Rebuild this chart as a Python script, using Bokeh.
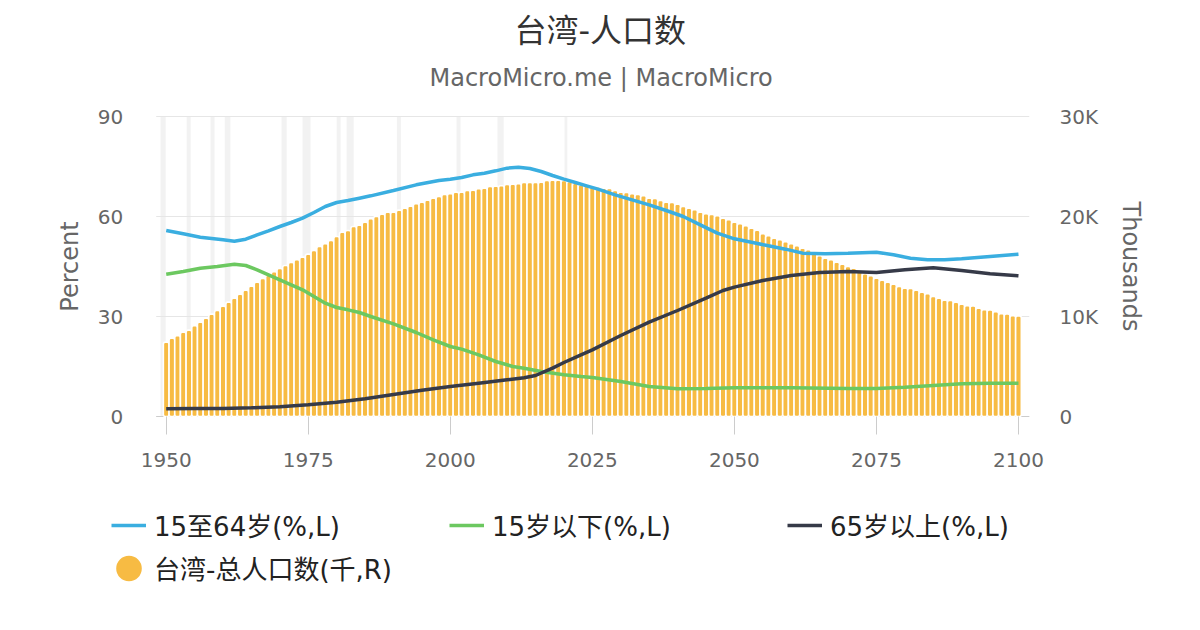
from math import pi
from bokeh.plotting import figure
from bokeh.layouts import column
from bokeh.models import Range1d, LinearAxis, FixedTicker, Legend, LegendItem, Title, Label
from bokeh.embed import file_html
from bokeh.resources import INLINE

# population, thousands, one bar per year 1950..2100
years = list(range(1950, 2101))
population = [
    7440, 7840, 8070, 8440, 8640, 9070, 9440, 9840, 10240, 10600,
    11040, 11440, 11840, 12240, 12640, 13040, 13440, 13800, 14140, 14470,
    14800, 15100, 15400, 15670, 15940, 16240, 16600, 17000, 17270, 17600,
    18000, 18440, 18600, 19000, 19140, 19440, 19770, 20000, 20240, 20440,
    20440, 20640, 20840, 21040, 21270, 21440, 21640, 21840, 22000, 22200,
    22270, 22440, 22440, 22600, 22640, 22770, 22840, 23000, 23040, 23070,
    23200, 23240, 23270, 23400, 23400, 23400, 23430, 23600, 23630, 23630,
    23600, 23500, 23330, 23170, 23070, 23000, 22950, 22840, 22800, 22600,
    22440, 22400, 22270, 22200, 22070, 21840, 21800, 21600, 21440, 21400,
    21240, 21000, 20840, 20670, 20440, 20270, 20200, 20070, 19840, 19670,
    19440, 19270, 19070, 18840, 18640, 18270, 18070, 17840, 17670, 17470,
    17270, 17070, 16840, 16670, 16340, 16070, 15840, 15670, 15440, 15240,
    15000, 14840, 14500, 14270, 14070, 13840, 13640, 13440, 13240, 13000,
    12840, 12800, 12640, 12440, 12270, 12000, 11840, 11640, 11600, 11440,
    11240, 11070, 11050, 10840, 10670, 10650, 10470, 10270, 10250, 10070,
    10050,
]

# 15至64岁 (%)
yr_1564 = [1950, 1953, 1956, 1958, 1960, 1962, 1964, 1966, 1968, 1970, 1972, 1974,
           1976, 1978, 1980, 1982, 1984, 1986, 1990, 1994, 1998, 2000, 2002, 2004,
           2006, 2008, 2010, 2012, 2014, 2016, 2018, 2020, 2022, 2024, 2026, 2029,
           2032, 2035, 2038, 2041, 2044, 2047, 2050, 2053, 2056, 2059, 2062, 2066,
           2070, 2075, 2078, 2081, 2084, 2087, 2090, 2095, 2100]
pct_1564 = [55.8, 54.8, 53.8, 53.4, 53.0, 52.6, 53.2, 54.5, 55.7, 57.0, 58.2, 59.5,
            61.2, 63.0, 64.2, 64.8, 65.5, 66.2, 67.8, 69.5, 70.8, 71.2, 71.7, 72.5,
            73.0, 73.7, 74.5, 74.8, 74.4, 73.5, 72.3, 71.2, 70.2, 69.2, 68.2, 66.5,
            65.0, 63.5, 61.8, 60.0, 57.5, 55.0, 53.3, 52.3, 51.2, 50.2, 49.0, 48.8,
            49.0, 49.3, 48.5, 47.5, 47.0, 47.0, 47.3, 48.0, 48.7]

# 15岁以下 (%)
yr_u15 = [1950, 1953, 1956, 1959, 1962, 1964, 1966, 1968, 1970, 1972, 1974, 1976,
          1978, 1980, 1982, 1984, 1986, 1990, 1994, 1997, 2000, 2002, 2005, 2008,
          2011, 2013, 2016, 2020, 2023, 2025, 2030, 2035, 2040, 2045, 2050, 2060,
          2070, 2075, 2080, 2085, 2090, 2095, 2100]
pct_u15 = [42.7, 43.5, 44.5, 45.0, 45.7, 45.3, 44.0, 42.5, 41.0, 39.5, 38.0, 36.0,
           34.0, 32.7, 32.0, 31.2, 30.0, 27.8, 25.2, 23.0, 21.0, 20.2, 18.5, 16.5,
           15.0, 14.5, 13.5, 12.5, 12.0, 11.7, 10.5, 9.0, 8.3, 8.4, 8.6, 8.6,
           8.4, 8.4, 8.8, 9.3, 9.8, 10.0, 10.0]

# 65岁以上 (%)
yr_65 = [1950, 1955, 1960, 1965, 1970, 1975, 1980, 1985, 1990, 1995, 2000, 2005,
         2010, 2013, 2015, 2018, 2020, 2023, 2025, 2030, 2035, 2040, 2045, 2048,
         2050, 2055, 2060, 2065, 2070, 2075, 2080, 2085, 2090, 2095, 2100]
pct_65 = [2.3, 2.4, 2.4, 2.6, 2.9, 3.5, 4.3, 5.3, 6.6, 7.9, 9.0, 10.0,
          11.0, 11.6, 12.3, 14.5, 16.2, 18.5, 20.0, 24.3, 28.3, 31.8, 35.5, 37.8,
          38.8, 40.8, 42.3, 43.2, 43.5, 43.2, 44.0, 44.6, 43.8, 42.8, 42.2]

# shaded periods in the background
band_start = [1949.0, 1953.6, 1957.8, 1960.3, 1970.3, 1974.0, 1980.0, 1981.75, 1990.6, 2001.1, 2008.3, 2020.1]
band_end = [1949.9, 1954.3, 1958.5, 1961.3, 1971.2, 1975.4, 1980.7, 1983.0, 1991.3, 2001.8, 2009.4, 2020.6]

x_ticks = [1950, 1975, 2000, 2025, 2050, 2075, 2100]
left_ticks = [0, 30, 60, 90]
right_ticks = [0, 10000, 20000, 30000]
right_labels = {0: "0", 10000: "10K", 20000: "20K", 30000: "30K"}

series_names = ["15至64岁(%,L)", "15岁以下(%,L)", "65岁以上(%,L)", "台湾-总人口数(千,R)"]

BLUE = "#3aaee0"
GREEN = "#6cc860"
DARK = "#363a48"
ORANGE = "#f7bb43"
GREY_TXT = "#666666"
LATIN = "DejaVu Sans"
CJK = "DejaVu Sans, Noto Sans CJK SC"

# visible plotting area in years; the frame itself reaches further left (and a
# little above/below) so the fixed left axis labels and the legend strip below,
# whose frame lines up with this one, are not clipped
X_LO, X_HI = 1948.24, 2101.94
FRAME_LO = 1930.69
PAD = 3.6  # percent units of head room above 90 and below 0

p = figure(width=1184, height=500, output_backend="svg", toolbar_location=None,
           x_range=Range1d(FRAME_LO, X_HI), y_range=Range1d(-PAD, 90 + PAD),
           min_border_left=56, min_border_right=155, min_border_top=104, min_border_bottom=72)
p.outline_line_color = None
p.extra_y_ranges = {"pop": Range1d(-PAD * 1000 / 3, 30000 + PAD * 1000 / 3)}
p.grid.visible = False

# background bands, grid lines and base line
p.quad(left=band_start, right=band_end, bottom=0, top=90, fill_color="#f2f2f2", line_color=None)
p.segment(x0=X_LO, x1=X_HI, y0=left_ticks, y1=left_ticks, line_color="#e6e6e6", line_width=1)
p.segment(x0=X_LO, x1=X_HI, y0=0, y1=0, line_color="#cccccc", line_width=1)

p.vbar(x=years, top=population, width=1.0, y_range_name="pop",
       fill_color=ORANGE, line_color="white", line_width=1.6, border_radius=2)

p.line(yr_1564, pct_1564, line_color=BLUE, line_width=3.5)
p.line(yr_u15, pct_u15, line_color=GREEN, line_width=3.5)
p.line(yr_65, pct_65, line_color=DARK, line_width=3.5)

# axes
xa = p.xaxis[0]
xa.ticker = FixedTicker(ticks=x_ticks)
xa.axis_line_color = None
xa.major_tick_line_color = "#cccccc"
xa.major_tick_in = 12
xa.major_tick_out = 6
xa.minor_tick_line_color = None
xa.major_label_standoff = 18
xa.major_label_text_font_size = "20px"
xa.major_label_text_color = GREY_TXT
xa.major_label_text_font = LATIN

ya = p.yaxis[0]
ya.ticker = FixedTicker(ticks=left_ticks)
ya.fixed_location = X_LO
ra = LinearAxis(y_range_name="pop", ticker=FixedTicker(ticks=right_ticks), axis_label="Thousands")
ra.major_label_overrides = right_labels
p.add_layout(ra, "right")
for ax in (ya, ra):
    ax.axis_line_color = None
    ax.major_tick_line_color = None
    ax.minor_tick_line_color = None
    ax.major_label_text_font_size = "20px"
    ax.major_label_text_color = GREY_TXT
    ax.major_label_text_font = LATIN
    ax.axis_label_text_font_size = "24px"
    ax.axis_label_text_color = GREY_TXT
    ax.axis_label_text_font = LATIN
    ax.axis_label_text_font_style = "normal"
ya.major_label_standoff = 27
ra.major_label_standoff = 24
ra.axis_label_standoff = 16

p.add_layout(Label(x=13, y=45, x_units="screen", text="Percent", angle=pi / 2,
                   text_align="center", text_baseline="middle", text_font_size="24px",
                   text_color=GREY_TXT, text_font=LATIN))

# titles (left aligned with an offset so they centre on the page)
p.add_layout(Title(text="MacroMicro.me | MacroMicro", align="left", offset=373, standoff=25,
                   text_font_size="24px", text_color=GREY_TXT, text_font=LATIN,
                   text_font_style="normal"), "above")
p.add_layout(Title(text="台湾-人口数", align="left", offset=458, standoff=0,
                   text_font_size="32px", text_color="#333333", text_font=CJK,
                   text_font_style="normal"), "above")

# legend strip underneath, its own small figure with invisible stand-in renderers
lg = figure(width=1184, height=114, output_backend="svg", toolbar_location=None,
            x_range=Range1d(0, 1), y_range=Range1d(0, 1),
            x_axis_location=None, y_axis_location=None, min_border=0)
lg.outline_line_color = None
lg.grid.visible = False
nan = float("nan")
r1 = lg.line(x=[nan, nan], y=[nan, nan], line_color=BLUE, line_width=3.5)
r2 = lg.line(x=[nan, nan], y=[nan, nan], line_color=GREEN, line_width=3.5)
r3 = lg.line(x=[nan, nan], y=[nan, nan], line_color=DARK, line_width=3.5)
r4 = lg.ellipse(x=[nan], y=[nan], width=1, height=1,
                width_units="screen", height_units="screen",
                fill_color=ORANGE, line_color=None)

legend = Legend(items=[LegendItem(label=n, renderers=[r]) for n, r in zip(series_names, [r1, r2, r3, r4])],
                orientation="horizontal", ncols=3, location=(55, 28),
                spacing=6, label_width=289, glyph_width=35, glyph_height=32,
                label_height=32, label_standoff=8, padding=0, margin=0,
                border_line_color=None, background_fill_alpha=0,
                label_text_font_size="26px", label_text_color="#222222", label_text_font=CJK)
lg.add_layout(legend)

layout = column(p, lg, spacing=0)
open("out.html", "w").write(file_html(layout, INLINE))
